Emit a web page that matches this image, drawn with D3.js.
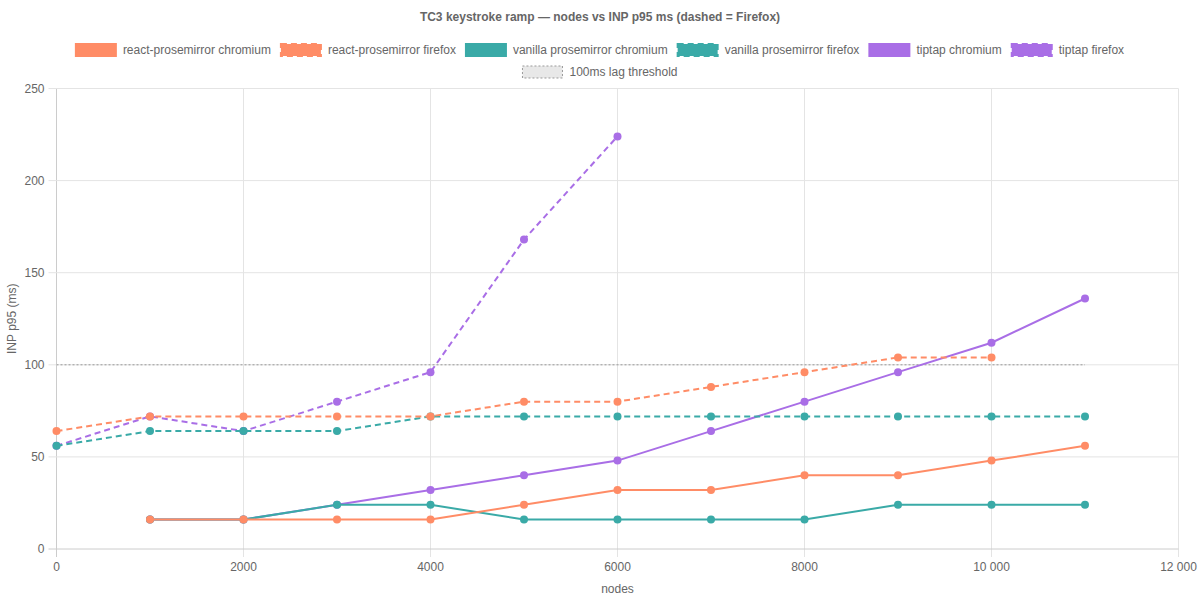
<!DOCTYPE html>
<html>
<head>
<meta charset="utf-8">
<script src="https://cdn.jsdelivr.net/npm/d3@7"></script>
<style>
  body { margin: 0; background: #fff; }
  text { font-family: "Helvetica Neue", Helvetica, Arial, "Liberation Sans", sans-serif; }
</style>
</head>
<body>
<div id="chart"></div>
<script>
// dados
var nodes = [0, 1000, 2000, 3000, 4000, 5000, 6000, 7000, 8000, 9000, 10000, 11000];
var xTicks = [0, 2000, 4000, 6000, 8000, 10000, 12000];
var yTicks = [0, 50, 100, 150, 200, 250];

var reactChromium = [null, 16, 16, 16, 16, 24, 32, 32, 40, 40, 48, 56];
var reactFirefox = [64, 72, 72, 72, 72, 80, 80, 88, 96, 104, 104, null];
var vanillaChromium = [null, 16, 16, 24, 24, 16, 16, 16, 16, 24, 24, 24];
var vanillaFirefox = [56, 64, 64, 64, 72, 72, 72, 72, 72, 72, 72, 72];
var tiptapChromium = [null, 16, 16, 24, 32, 40, 48, 64, 80, 96, 112, 136];
var tiptapFirefox = [56, 72, 64, 80, 96, 168, 224, null, null, null, null, null];

var threshold = 100;
var thresholdRange = [0, 11000];

var seriesNames = ["react-prosemirror chromium", "react-prosemirror firefox",
  "vanilla prosemirror chromium", "vanilla prosemirror firefox",
  "tiptap chromium", "tiptap firefox"];
var seriesValues = [reactChromium, reactFirefox, vanillaChromium, vanillaFirefox, tiptapChromium, tiptapFirefox];
var colors = ["#ff8c66", "#ff8c66", "#3aaaa7", "#3aaaa7", "#a96ee6", "#a96ee6"];
var dashed = [false, true, false, true, false, true];

var svgWidth = 1200, svgHeight = 600;
var margin = { top: 88.5, right: 21.5, bottom: 51, left: 56.5 };
var width = svgWidth - margin.left - margin.right;
var height = svgHeight - margin.top - margin.bottom;

var svg = d3.select("#chart").append("svg")
  .attr("width", svgWidth)
  .attr("height", svgHeight);

// titulo
svg.append("text")
  .attr("x", svgWidth / 2).attr("y", 21)
  .attr("text-anchor", "middle")
  .attr("font-size", 12).attr("font-weight", "bold")
  .attr("fill", "#666")
  .text("TC3 keystroke ramp \u2014 nodes vs INP p95 ms (dashed = Firefox)");

var g = svg.append("g")
  .attr("transform", "translate(" + margin.left + "," + margin.top + ")");

var x = d3.scaleLinear().domain([0, 12000]).range([0, width]);
var y = d3.scaleLinear().domain([0, 250]).range([height, 0]);

function fmtX(v) {
  if (v >= 10000) return d3.format(",")(v).replace(/,/g, " ");
  return String(v);
}

// grade
g.append("g").selectAll("line").data(xTicks).enter().append("line")
  .attr("x1", d => x(d)).attr("x2", d => x(d))
  .attr("y1", 0).attr("y2", height + 8)
  .attr("stroke", d => d === 0 ? "#ccc" : "#e4e4e4");

g.append("g").selectAll("line").data(yTicks).enter().append("line")
  .attr("x1", -8).attr("x2", width)
  .attr("y1", d => y(d)).attr("y2", d => y(d))
  .attr("stroke", d => d === 0 ? "#ccc" : "#e4e4e4");

// rotulos dos eixos
g.append("g").selectAll("text").data(yTicks).enter().append("text")
  .attr("x", -12).attr("y", d => y(d)).attr("dy", "0.35em")
  .attr("text-anchor", "end").attr("font-size", 12).attr("fill", "#666")
  .text(d => d);

g.append("g").selectAll("text").data(xTicks).enter().append("text")
  .attr("x", d => x(d)).attr("y", height + 22)
  .attr("text-anchor", "middle").attr("font-size", 12).attr("fill", "#666")
  .text(fmtX);

svg.append("text")
  .attr("x", margin.left + width / 2).attr("y", 593)
  .attr("text-anchor", "middle").attr("font-size", 12).attr("fill", "#666")
  .text("nodes");

svg.append("text")
  .attr("transform", "translate(16," + (margin.top + height / 2) + ") rotate(-90)")
  .attr("text-anchor", "middle").attr("font-size", 12).attr("fill", "#666")
  .text("INP p95 (ms)");

// linha de limite
g.append("path")
  .attr("fill", "none")
  .attr("stroke", "#999")
  .attr("stroke-width", 1)
  .attr("stroke-dasharray", "2,2")
  .attr("d", d3.line()([[x(thresholdRange[0]), y(threshold)], [x(thresholdRange[1]), y(threshold)]]));

var line = d3.line()
  .defined(d => d.v !== null)
  .x(d => x(d.n))
  .y(d => y(d.v));

// desenha em ordem reversa (primeiro dataset por cima)
for (var i = seriesValues.length - 1; i >= 0; i--) {
  var data = nodes.map((n, j) => ({ n: n, v: seriesValues[i][j] }));
  var sg = g.append("g");
  sg.append("path")
    .datum(data)
    .attr("fill", "none")
    .attr("stroke", colors[i])
    .attr("stroke-width", 2)
    .attr("stroke-dasharray", dashed[i] ? "6,4" : null)
    .attr("d", line);
  sg.selectAll("circle").data(data.filter(d => d.v !== null)).enter().append("circle")
    .attr("cx", d => x(d.n)).attr("cy", d => y(d.v))
    .attr("r", 4)
    .attr("fill", colors[i]);
}

// legenda
var legendItems = seriesNames.map((n, i) => ({ name: n, color: colors[i], dash: dashed[i] }));
var legend = svg.append("g");

function drawLegendRow(items, cy) {
  var row = legend.append("g");
  var xx = 0;
  items.forEach(function (it) {
    var ig = row.append("g").attr("transform", "translate(" + xx + ",0)");
    ig.append("rect")
      .attr("x", 0).attr("y", cy - 6).attr("width", 40).attr("height", 12)
      .attr("fill", it.fill || it.color)
      .attr("stroke", it.stroke || it.color)
      .attr("stroke-width", it.sw || 2)
      .attr("stroke-dasharray", it.dash ? (it.dashArr || "6,4") : null);
    var t = ig.append("text")
      .attr("x", 47).attr("y", cy).attr("dy", "0.35em")
      .attr("font-size", 12).attr("fill", "#666")
      .text(it.name);
    xx += 47 + t.node().getComputedTextLength() + 10;
  });
  var total = xx - 10;
  row.attr("transform", "translate(" + ((svgWidth - total) / 2) + ",0)");
}

drawLegendRow(legendItems, 50);
drawLegendRow([{ name: "100ms lag threshold", color: "#999", fill: "#e8e8e8", stroke: "#999", sw: 1, dash: true, dashArr: "2,2" }], 72);
</script>
</body>
</html>
